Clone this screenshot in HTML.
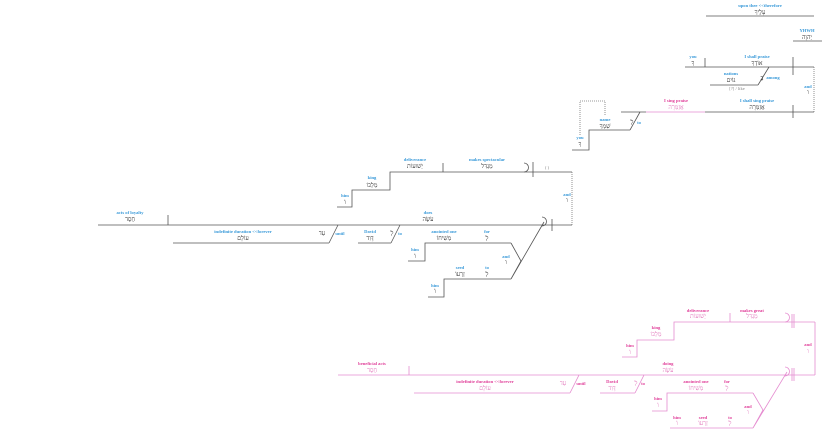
<!DOCTYPE html>
<html><head><meta charset="utf-8"><style>
html,body{margin:0;padding:0;background:#fff;width:825px;height:433px;overflow:hidden}
svg{display:block}
.e{font-family:"Liberation Serif",serif;font-size:4.6px;font-weight:bold;fill:#3a9ad9;text-anchor:middle}
.h{font-family:"Liberation Serif","Noto Sans CJK SC",serif;font-size:6px;fill:#222;text-anchor:middle}
.p{fill:#e0409a}
.ph{fill:#e070b8}
.g{font-family:"Liberation Serif",serif;font-size:4.6px;fill:#888;text-anchor:middle}
.l{stroke:#555;stroke-width:0.8;fill:none}
.d{stroke:#777;stroke-width:0.8;fill:none;stroke-dasharray:1,1}
.k{stroke:#e58cd0;stroke-width:0.8;fill:none}
</style></head><body>
<svg width="825" height="433" viewBox="0 0 825 433" xmlns="http://www.w3.org/2000/svg">
<!-- TOP -->
<text class="e" x="760" y="7">upon thee &lt;&lt;therefore</text>
<text class="h" x="760" y="14">עָלֶיךָ</text>
<line class="l" x1="706" y1="16" x2="814" y2="16"/>
<text class="e" x="807" y="32">YHWH</text>
<text class="h" x="807" y="39">יְהוָה</text>
<line class="l" x1="793" y1="41" x2="822" y2="41"/>

<text class="e" x="693" y="58">you</text>
<text class="h" x="693" y="65">ךָ</text>
<text class="e" x="757" y="58">I shall praise</text>
<text class="h" x="757" y="65">אוֹדְךָ</text>
<line class="l" x1="685" y1="67" x2="814" y2="67"/>
<line class="l" x1="705" y1="58" x2="705" y2="67"/>
<line class="l" x1="793" y1="57" x2="793" y2="75"/>
<text class="e" x="731" y="75">nations</text>
<text class="h" x="731" y="82">גּוֹיִם</text>
<line class="l" x1="710" y1="85" x2="758" y2="85"/>
<line class="l" x1="758" y1="85" x2="769" y2="67"/>
<text class="h" x="762" y="80">בַ</text>
<text class="e" x="773" y="79">among</text>
<text class="g" x="737" y="90">[?] / like</text>
<text class="e" x="808" y="88">and</text>
<text class="h" x="808" y="94">ו</text>
<line class="d" x1="814" y1="67" x2="814" y2="112"/>

<text class="e p" x="676" y="102">I sing praise</text>
<text class="h ph" x="676" y="109">אֲזַמֵּרָה</text>
<text class="e" x="757" y="102">I shall sing praise</text>
<text class="h" x="757" y="109">אֲזַמְּרָה</text>
<line class="l" x1="621" y1="112" x2="646" y2="112"/>
<line class="k" x1="646" y1="112" x2="705" y2="112"/>
<line class="l" x1="705" y1="112" x2="814" y2="112"/>
<line class="l" x1="793" y1="105" x2="793" y2="118"/>
<line class="l" x1="630" y1="130" x2="640" y2="112"/>
<text class="h" x="632" y="124">לְ</text>
<text class="e" x="639" y="124">to</text>
<text class="e" x="605" y="121">name</text>
<text class="h" x="605" y="128">שִׁמְךָ</text>
<polyline class="l" points="630,130 589,130 589,150 572,150"/>
<text class="e" x="580" y="139">you</text>
<text class="h" x="580" y="146">ךָ</text>
<polyline class="d" points="580,135 580,101 605,101 605,115"/>

<!-- MIDDLE -->
<text class="e" x="415" y="161">deliverance</text>
<text class="h" x="415" y="168">יְשׁוּעוֹת</text>
<text class="e" x="487" y="161">makes spectacular</text>
<text class="h" x="487" y="168">מַגְדִּל</text>
<polyline class="l" points="337,207 352,207 352,190 390,190 390,172 572,172"/>
<line class="l" x1="443" y1="163" x2="443" y2="172"/>
<path class="l" d="M524,163 a4.5,4.5 0 0 1 0,9"/>
<line class="l" x1="533" y1="162" x2="533" y2="177"/>
<text class="g" x="547" y="169">( )</text>
<text class="e" x="372" y="179">king</text>
<text class="h" x="372" y="187">מַלְכּוֹ</text>
<text class="e" x="345" y="197">him</text>
<text class="h" x="345" y="204">וֹ</text>
<text class="e" x="567" y="196">and</text>
<text class="h" x="567" y="202">ו</text>
<line class="d" x1="572" y1="172" x2="572" y2="225"/>

<text class="e" x="130" y="214">acts of loyalty</text>
<text class="h" x="130" y="221">חֶסֶד</text>
<text class="e" x="428" y="214">does</text>
<text class="h" x="428" y="221">עֹשֶׂה</text>
<line class="l" x1="98" y1="225" x2="572" y2="225"/>
<line class="l" x1="168" y1="215" x2="168" y2="225"/>
<path class="l" d="M542,217 a4.5,4.5 0 0 1 0,9"/>
<line class="l" x1="552" y1="219" x2="552" y2="231"/>

<text class="e" x="243" y="233">indefinite duration &lt;&lt;forever</text>
<text class="h" x="243" y="240">עוֹלָם</text>
<line class="l" x1="173" y1="243" x2="329" y2="243"/>
<line class="l" x1="329" y1="243" x2="338" y2="225"/>
<text class="h" x="322" y="235">עַד</text>
<text class="e" x="340" y="235">until</text>
<text class="e" x="370" y="233">David</text>
<text class="h" x="370" y="240">דָּוִד</text>
<line class="l" x1="358" y1="243" x2="391" y2="243"/>
<line class="l" x1="391" y1="243" x2="400" y2="225"/>
<text class="h" x="392" y="235">לְ</text>
<text class="e" x="400" y="235">to</text>

<text class="e" x="444" y="233">anointed one</text>
<text class="h" x="444" y="240">מְשִׁיחוֹ</text>
<text class="e" x="487" y="233">for</text>
<text class="h" x="487" y="240">לְ</text>
<polyline class="l" points="408,261 425,261 425,243 511,243"/>
<text class="e" x="415" y="251">him</text>
<text class="h" x="415" y="258">וֹ</text>
<text class="e" x="460" y="269">seed</text>
<text class="h" x="460" y="276">זַרְעוֹ</text>
<text class="e" x="487" y="269">to</text>
<text class="h" x="487" y="276">לְ</text>
<polyline class="l" points="428,297 444,297 444,279 511,279"/>
<text class="e" x="435" y="287">him</text>
<text class="h" x="435" y="293">וֹ</text>
<polyline class="l" points="511,243 521,261 511,279 544,222"/>
<text class="e" x="506" y="258">and</text>
<text class="h" x="506" y="264">ו</text>

<!-- PINK BOTTOM -->
<g>
<text class="e p" x="698" y="312">deliverance</text>
<text class="h ph" x="698" y="318">יְשׁוּעוֹת</text>
<text class="e p" x="752" y="312">makes great</text>
<text class="h ph" x="752" y="318">מַגְדִּל</text>
<polyline class="k" points="622,357 637,357 637,340 674,340 674,322 815,322"/>
<line class="k" x1="730" y1="313" x2="730" y2="322"/>
<path class="k" d="M785,313 a4.5,4.5 0 0 1 0,9"/>
<line class="k" x1="792" y1="314" x2="792" y2="328"/>
<line class="k" x1="794" y1="314" x2="794" y2="328"/>
<text class="e p" x="656" y="329">king</text>
<text class="h ph" x="656" y="336">מַלְכּוֹ</text>
<text class="e p" x="630" y="347">him</text>
<text class="h ph" x="630" y="354">וֹ</text>
<text class="e p" x="808" y="346">and</text>
<text class="h ph" x="808" y="353">ו</text>
<line class="k" x1="815" y1="322" x2="815" y2="375"/>

<text class="e p" x="372" y="365">beneficial acts</text>
<text class="h ph" x="372" y="372">חֶסֶד</text>
<text class="e p" x="668" y="365">doing</text>
<text class="h ph" x="668" y="372">עֹשֶׂה</text>
<line class="k" x1="338" y1="375" x2="815" y2="375"/>
<line class="k" x1="409" y1="366" x2="409" y2="375"/>
<path class="k" d="M785,367 a4.5,4.5 0 0 1 0,9"/>
<line class="k" x1="792" y1="368" x2="792" y2="381"/>
<line class="k" x1="794" y1="368" x2="794" y2="381"/>

<text class="e p" x="485" y="383">indefinite duration &lt;&lt;forever</text>
<text class="h ph" x="485" y="390">עוֹלָם</text>
<line class="k" x1="414" y1="393" x2="570" y2="393"/>
<line class="k" x1="570" y1="393" x2="579" y2="375"/>
<text class="h ph" x="563" y="385">עַד</text>
<text class="e p" x="581" y="385">until</text>
<text class="e p" x="612" y="383">David</text>
<text class="h ph" x="612" y="390">דָּוִד</text>
<line class="k" x1="600" y1="393" x2="635" y2="393"/>
<line class="k" x1="635" y1="393" x2="644" y2="375"/>
<text class="h ph" x="636" y="385">לְ</text>
<text class="e p" x="643" y="385">to</text>

<text class="e p" x="696" y="383">anointed one</text>
<text class="h ph" x="696" y="390">מְשִׁיחוֹ</text>
<text class="e p" x="727" y="383">for</text>
<text class="h ph" x="727" y="390">לְ</text>
<polyline class="k" points="652,411 667,411 667,393 753,393"/>
<text class="e p" x="658" y="400">him</text>
<text class="h ph" x="658" y="407">וֹ</text>
<text class="e p" x="677" y="419">him</text>
<text class="h ph" x="677" y="425">וֹ</text>
<text class="e p" x="703" y="419">seed</text>
<text class="h ph" x="703" y="425">זַרְעוֹ</text>
<text class="e p" x="730" y="419">to</text>
<text class="h ph" x="730" y="425">לְ</text>
<line class="k" x1="670" y1="428" x2="753" y2="428"/>
<polyline class="k" points="753,393 763,410 753,428 787,372"/>
<text class="e p" x="748" y="408">and</text>
<text class="h ph" x="748" y="414">ו</text>
</g>
</svg>
</body></html>
